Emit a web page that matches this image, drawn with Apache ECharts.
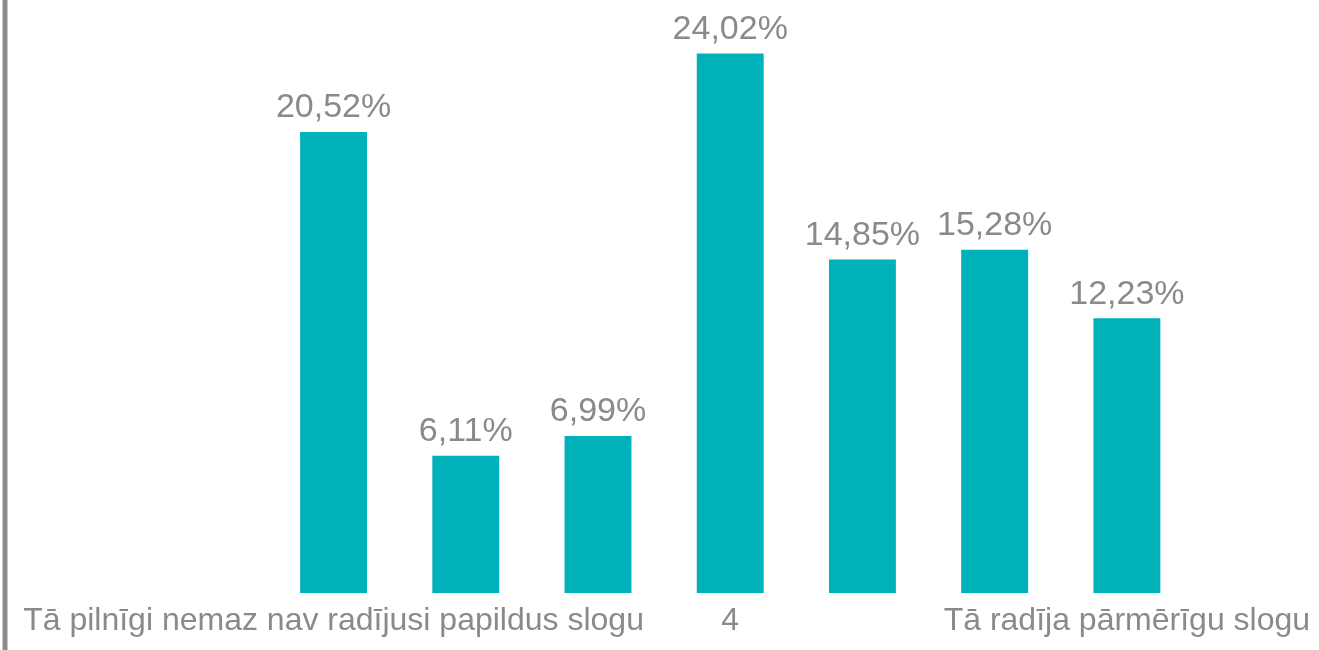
<!DOCTYPE html>
<html><head><meta charset="utf-8">
<script src="https://cdn.jsdelivr.net/npm/echarts@6/dist/echarts.min.js"></script>
<style>html,body{margin:0;padding:0;background:#fff}#c{width:1319px;height:650px}</style>
</head><body><div id="c"></div>
<script>
const categories = ["", "", "Tā pilnīgi nemaz nav radījusi papildus slogu", "2", "3", "4", "5", "6", "Tā radīja pārmērīgu slogu"];
const shownLabels = ["", "", "Tā pilnīgi nemaz nav radījusi papildus slogu", "", "", "4", "", "", "Tā radīja pārmērīgu slogu"];
const values = [null, null, 20.52, 6.11, 6.99, 24.02, 14.85, 15.28, 12.23];

const chart = echarts.init(document.getElementById('c'));
chart.setOption({
  animation: false,
  grid: { left: 3, right: 126, top: 9, bottom: 57 },
  xAxis: {
    type: 'category', data: categories,
    axisLine: { show: false }, axisTick: { show: false },
    axisLabel: {
      interval: 0, color: '#8a8a8a', fontSize: 32, fontFamily: 'Liberation Sans', margin: 12,
      formatter: (v, i) => shownLabels[i]
    }
  },
  yAxis: {
    type: 'value', min: 0, max: 26,
    axisLine: { show: false }, axisTick: { show: false }, axisLabel: { show: false }, splitLine: { show: false }
  },
  graphic: [{
    type: 'line', shape: { x1: 5, y1: 0, x2: 5, y2: 650 },
    style: { stroke: '#8c8c8c', lineWidth: 5 }
  }],
  series: [{
    type: 'bar', data: values, barWidth: '50.6%',
    itemStyle: { color: '#00b1ba' },
    label: {
      show: true, position: 'top', distance: 7, color: '#8a8a8a', fontSize: 34, fontFamily: 'Liberation Sans',
      formatter: p => p.value.toFixed(2).replace('.', ',') + '%'
    }
  }]
});
</script></body></html>
